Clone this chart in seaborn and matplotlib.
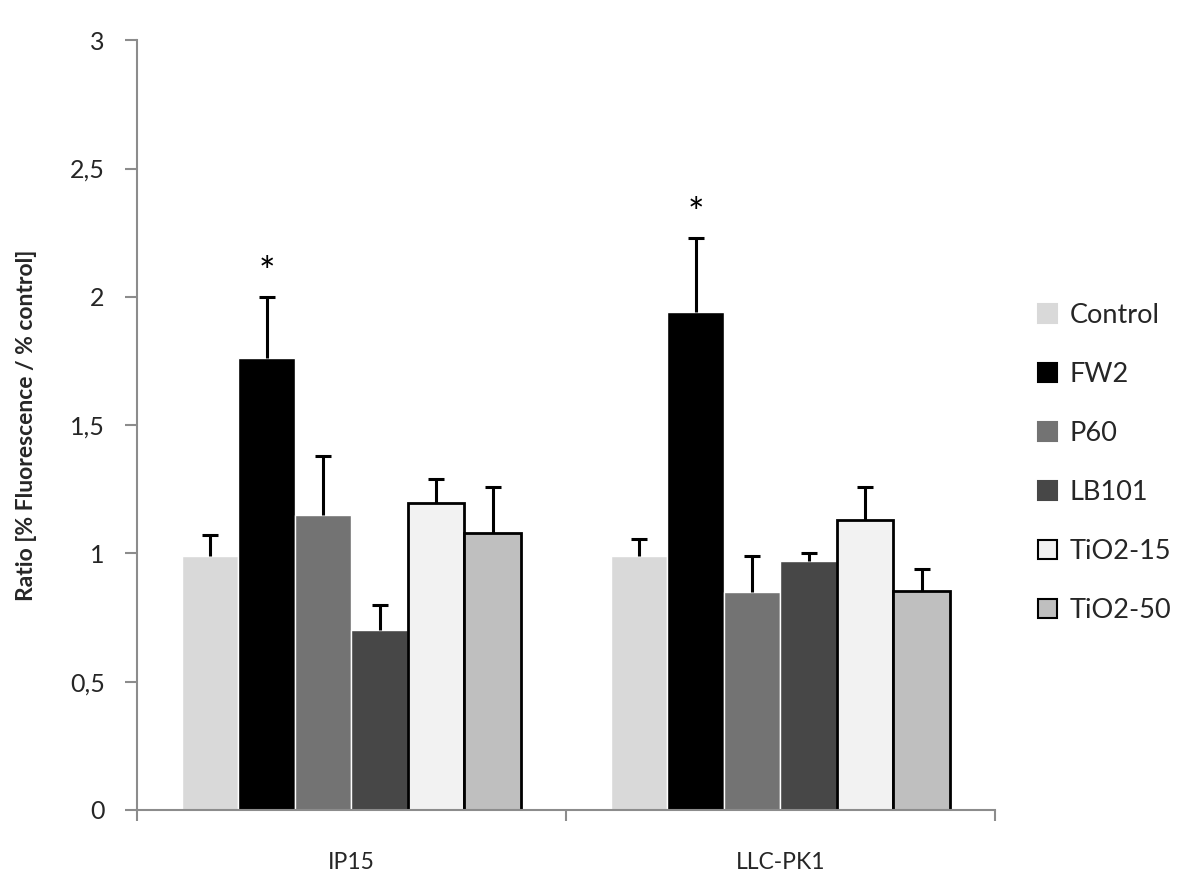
import pandas as pd
import matplotlib
matplotlib.use("Agg")
import matplotlib.pyplot as plt
import seaborn as sns
from matplotlib.patches import Patch

cells = ["IP15", "LLC-PK1"]
treatments = ["Control", "FW2", "P60", "LB101", "TiO2-15", "TiO2-50"]
ip15_mean = [0.99, 1.76, 1.15, 0.70, 1.195, 1.08]
ip15_err = [0.08, 0.24, 0.23, 0.10, 0.095, 0.18]
llc_mean = [0.99, 1.94, 0.85, 0.97, 1.13, 0.855]
llc_err = [0.065, 0.29, 0.14, 0.03, 0.13, 0.085]
colors = ["#d9d9d9", "#000000", "#737373", "#474747", "#f2f2f2", "#bfbfbf"]

rows = []
for t, m, e in zip(treatments, ip15_mean, ip15_err):
    rows.append({"cell": "IP15", "treatment": t, "value": m, "err": e})
for t, m, e in zip(treatments, llc_mean, llc_err):
    rows.append({"cell": "LLC-PK1", "treatment": t, "value": m, "err": e})
df = pd.DataFrame(rows)

sns.set_style("white")
plt.rcParams['font.family'] = ['Lato', 'DejaVu Sans']

fig = plt.figure(figsize=(12, 8.94), dpi=100)
ax = fig.add_axes([0.114, 0.094, 0.715, 0.861])

sns.barplot(data=df, x="cell", y="value", hue="treatment", hue_order=treatments,
            palette=colors, width=0.79, saturation=1, errorbar=None, ax=ax,
            legend=False)

# edges on the two light bars, upper error bars only, stars over FW2
bar_conts = list(ax.containers)
for i, cont in enumerate(bar_conts):
    t = treatments[i]
    sub = df[df.treatment == t]
    for bar, (_, r) in zip(cont, sub.iterrows()):
        if t in ("TiO2-15", "TiO2-50"):
            bar.set_edgecolor("black")
            bar.set_linewidth(2)
        xc = bar.get_x() + bar.get_width() / 2
        eb = ax.errorbar(xc, r.value, yerr=[[0], [r.err]], fmt="none", ecolor="black",
                         elinewidth=2.2, capsize=6, capthick=2.2, zorder=3)
        eb[1][0].set_visible(False)
        if t == "FW2":
            ax.text(xc, r.value + r.err + 0.09, "*", ha="center", va="center",
                    fontsize=28, color="black")

ax.set_xlim(-0.5, 1.5)
ax.set_ylim(0, 3)
yt = [0, 0.5, 1, 1.5, 2, 2.5, 3]
ax.set_yticks(yt)
ax.set_yticklabels([("%g" % v).replace(".", ",") for v in yt], fontsize=18)
ax.set_xticks([0, 1])
ax.set_xticklabels(cells, fontsize=16.5)
ax.set_xticks([-0.5, 0.5, 1.5], minor=True)
ax.tick_params(axis="x", which="major", bottom=False, length=0, pad=30)
ax.tick_params(axis="x", which="minor", bottom=True, length=8, color="#8c8c8c",
               width=1.5, direction="out")
ax.tick_params(axis="y", left=True, length=9, color="#8c8c8c", width=1.5,
               direction="out", pad=14)
ax.set_xlabel("")
ax.set_ylabel("Ratio [% Fluorescence / % control]", fontsize=16.5,
              fontweight="bold", labelpad=24)

for s in ["top", "right"]:
    ax.spines[s].set_visible(False)
for s in ["left", "bottom"]:
    ax.spines[s].set_color("#8c8c8c")
    ax.spines[s].set_linewidth(1.5)

handles = []
for t, c in zip(treatments, colors):
    ec = "black" if t in ("TiO2-15", "TiO2-50") else c
    handles.append(Patch(facecolor=c, edgecolor=ec, linewidth=1.5, label=t))
fig.legend(handles=handles, loc="upper left", bbox_to_anchor=(0.845, 0.688),
           frameon=False, fontsize=19.5, handlelength=0.7, handleheight=0.7,
           handletextpad=0.45, labelspacing=1.25)

fig.savefig("out.png", dpi=100)
